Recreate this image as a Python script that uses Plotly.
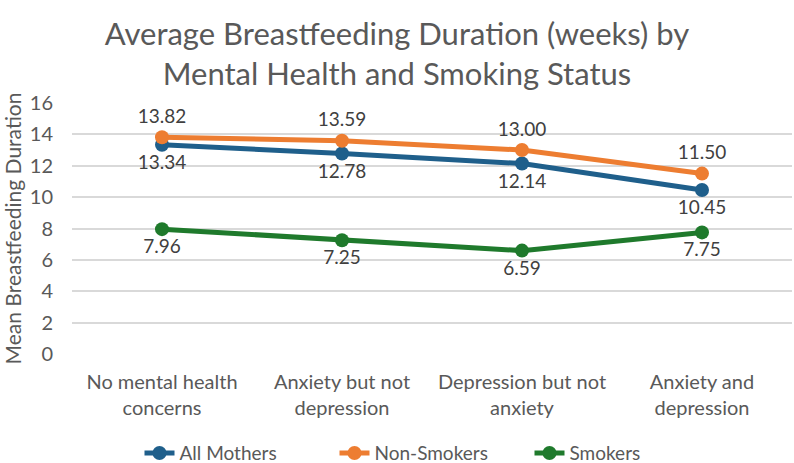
import plotly.graph_objects as go

categories = ["No mental health<br>concerns", "Anxiety but not<br>depression",
              "Depression but not<br>anxiety", "Anxiety and<br>depression"]
all_mothers = [13.34, 12.78, 12.14, 10.45]
non_smokers = [13.82, 13.59, 13.00, 11.50]
smokers = [7.96, 7.25, 6.59, 7.75]
y_ticks = [0, 2, 4, 6, 8, 10, 12, 14, 16]

FONT = "Lato, Carlito, Calibri, sans-serif"
GREY = "#595959"

series = [
    ("All Mothers", all_mothers, "#1F5F8B", "bottom center"),
    ("Non-Smokers", non_smokers, "#ED7D31", "top center"),
    ("Smokers", smokers, "#1F7A2C", "bottom center"),
]

fig = go.Figure()
for name, vals, color, pos in series:
    fig.add_trace(go.Scatter(
        x=categories, y=vals, name=name, mode="lines+markers+text",
        line=dict(color=color, width=5),
        marker=dict(color=color, size=14),
        text=[f"{v:.2f}" for v in vals], textposition=pos,
        textfont=dict(family=FONT, size=19, color="#404040"),
        cliponaxis=False,
    ))

fig.update_layout(
    width=794, height=463,
    margin=dict(l=72, r=2, t=103, b=109, autoexpand=False),
    paper_bgcolor="white", plot_bgcolor="white",
    font=dict(family=FONT, color=GREY),
    title=dict(text="Average Breastfeeding Duration (weeks) by<br>Mental Health and Smoking Status",
               x=0.5, xanchor="center", y=1 - 45 / 463, yanchor="middle",
               font=dict(family=FONT, size=31, color=GREY)),
    legend=dict(orientation="h", x=0.5, xanchor="center", y=-0.395, yanchor="middle",
                entrywidth=150, entrywidthmode="pixels",
                font=dict(family=FONT, size=19, color=GREY)),
    showlegend=True,
)
fig.update_xaxes(range=[-0.5, 3.5], showgrid=False, showline=False, zeroline=False, ticks="",
                 automargin=False, ticklabelstandoff=14,
                 tickfont=dict(family=FONT, size=20, color=GREY))
fig.update_yaxes(range=[0, 16], tickvals=y_ticks, showgrid=True, gridcolor="#D9D9D9",
                 gridwidth=1.5, zeroline=False, showline=False, ticks="", automargin=False,
                 tickfont=dict(family=FONT, size=20, color=GREY), ticklabelstandoff=18,
                 title=dict(text="Mean Breastfeeding Duration", standoff=4,
                            font=dict(family=FONT, size=21, color=GREY)))

fig.write_html("out.html")
